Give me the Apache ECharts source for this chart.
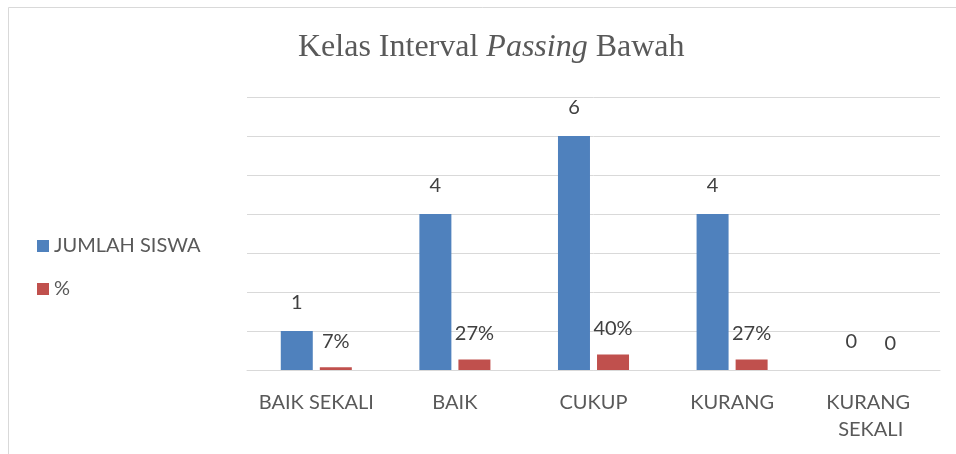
<!DOCTYPE html>
<html><head><meta charset="utf-8">
<script src="https://cdn.jsdelivr.net/npm/echarts@6/dist/echarts.min.js"></script>
<style>html,body{margin:0;padding:0;background:#fff}#c{width:956px;height:454px}</style>
</head><body><div id="c"></div>
<script>
const categories = ['BAIK SEKALI', 'BAIK', 'CUKUP', 'KURANG', 'KURANG SEKALI'];
const jumlahSiswa = [1, 4, 6, 4, 0];
const persen = [0.07, 0.27, 0.40, 0.27, 0];
const seriesNames = ['JUMLAH SISWA', '%'];

const chart = echarts.init(document.getElementById('c'));
const font = 'Lato, "Open Sans", sans-serif';
chart.setOption({
  backgroundColor: '#fff',
  animation: false,
  title: {
    text: '{a|Kelas Interval }{b|Passing}{a| Bawah}',
    left: 293, top: 27,
    textStyle: {
      fontWeight: 'normal',
      rich: {
        a: {fontFamily: '"Liberation Serif", serif', fontSize: 32, color: '#595959', fontWeight: 'normal'},
        b: {fontFamily: '"Liberation Serif", serif', fontSize: 32, color: '#595959', fontStyle: 'italic', fontWeight: 'normal'}
      }
    }
  },
  legend: {
    orient: 'vertical', left: 32, top: 231,
    itemWidth: 12, itemHeight: 12, itemGap: 23,
    icon: 'rect',
    textStyle: {fontFamily: font, fontSize: 20, color: '#595959'},
    data: seriesNames
  },
  graphic: [{
    type: 'rect', shape: {x: 8.5, y: 7.5, width: 1000, height: 500},
    style: {fill: 'none', stroke: '#d9d9d9', lineWidth: 1}, silent: true
  }],
  grid: {left: 247, right: 16, top: 97, bottom: 84},
  xAxis: {
    type: 'category', data: categories,
    axisLine: {lineStyle: {color: '#d9d9d9'}},
    axisTick: {show: false},
    axisLabel: {fontFamily: font, fontSize: 20, color: '#595959', margin: 19,
      width: 125, overflow: 'break', lineHeight: 27, interval: 0}
  },
  yAxis: {
    type: 'value', min: 0, max: 7, interval: 1,
    axisLabel: {show: false}, axisLine: {show: false}, axisTick: {show: false},
    splitLine: {lineStyle: {color: '#d9d9d9'}}
  },
  series: [{
    name: seriesNames[0], type: 'bar', data: jumlahSiswa,
    barWidth: 32, barGap: '22%',
    itemStyle: {color: '#4f81bd'},
    label: {show: true, position: 'top', distance: 18, fontFamily: font, fontSize: 20, color: '#404040'}
  }, {
    name: seriesNames[1], type: 'bar', data: persen,
    barWidth: 32,
    itemStyle: {color: '#c0504d'},
    label: {show: true, position: 'top', distance: 16, fontFamily: font, fontSize: 20, color: '#404040',
      formatter: p => p.value === 0 ? '0' : Math.round(p.value * 100) + '%'}
  }]
});
</script></body></html>
